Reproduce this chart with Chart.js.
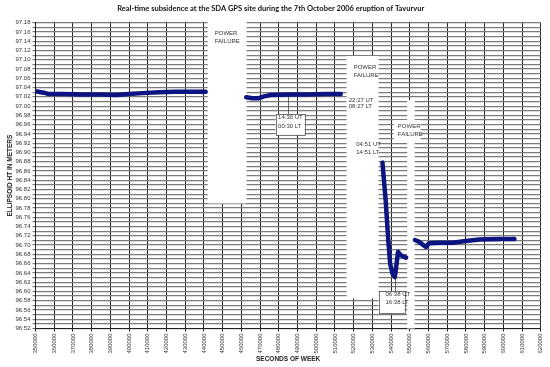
<!DOCTYPE html>
<html>
<head>
<meta charset="utf-8">
<script src="https://cdn.jsdelivr.net/npm/chart.js@4.4.0/dist/chart.umd.min.js"></script>
<style>
html, body { margin: 0; padding: 0; background: #fff; }
</style>
</head>
<body>
<canvas id="myChart" width="550" height="367"></canvas>
<script>
const ctx = document.getElementById('myChart').getContext('2d')

// seconds of GPS week, a null height marks a gap (power failure)
const gpsSeconds = [
  350000, 354400, 357100, 365000, 375000, 385000, 392800, 400000, 407000, 416000, 425000, 433000, 440900,
  452000,
  462600, 465800, 469400, 472100, 475700, 485500, 495000, 505000, 513100,
  524000,
  535400, 537100, 538500, 539500, 540700, 542000, 542500, 543700, 545200, 548000,
  550500,
  552800, 555000, 558600, 560300, 565700, 572800, 580000, 587100, 598800,
  599700,
  600500, 602800,
  603200,
  603600, 605900
]
const ellipsoidHt = [
  97.032, 97.029, 97.026, 97.026, 97.025, 97.025, 97.024, 97.026, 97.028, 97.030, 97.031, 97.031, 97.031,
  null,
  97.019, 97.017, 97.017, 97.021, 97.024, 97.025, 97.025, 97.026, 97.026,
  null,
  96.878, 96.797, 96.711, 96.660, 96.639, 96.631, 96.646, 96.685, 96.678, 96.673,
  null,
  96.711, 96.707, 96.696, 96.704, 96.705, 96.705, 96.709, 96.712, 96.713,
  null,
  96.713, 96.713,
  null,
  96.713, 96.713
]

const xMin = 350000
const xMax = 620000
const xStep = 10000
const yMin = 96.52
const yMax = 97.18
const yStep = 0.01

// text boxes pasted over the plot (in axis units)
const boxes = [
  { x0: 442000, x1: 462800, y0: 96.79, y1: 97.2 },
  { x0: 516200, x1: 533300, y0: 96.585, y1: 97.108 },
  { x0: 548600, x1: 552600, y0: 96.50, y1: 97.013 },
  { x0: 541400, x1: 555800, y0: 96.927, y1: 96.97 },
  { x0: 478300, x1: 493800, y0: 96.938, y1: 96.983, frame: true },
  { x0: 533300, x1: 547300, y0: 96.553, y1: 96.60, frame: true }
]
const leaders = [
  { x: 484700, y0: 97.025, y1: 96.983 },
  { x: 542000, y0: 96.631, y1: 96.60 }
]
const notes = [
  ['POWER', 445800, 97.158], ['FAILURE', 445800, 97.139],
  ['POWER', 520000, 97.084], ['FAILURE', 520000, 97.067],
  ['22:27 UT', 517400, 97.013], ['08:27 LT', 517400, 96.999],
  ['04:51 UT', 521400, 96.918], ['14:51 LT', 521400, 96.900],
  ['POWER', 543600, 96.957], ['FAILURE', 543600, 96.940],
  ['14:30 UT', 479600, 96.975], ['00:30 LT', 479600, 96.956],
  ['06:38 UT', 537000, 96.593], ['16:38 LT', 537000, 96.576]
]

const points = gpsSeconds.map((s, i) => ({ x: s, y: ellipsoidHt[i] }))

const annotate = {
  id: 'annotate',
  beforeDatasetsDraw(chart) {
    const c = chart.ctx
    const xs = chart.scales.x
    const ys = chart.scales.y
    const a = chart.chartArea
    c.save()
    c.beginPath()
    c.rect(a.left, a.top - 2, a.right - a.left, a.bottom - a.top + 2)
    c.clip()
    boxes.forEach(b => {
      const l = xs.getPixelForValue(b.x0)
      const r = xs.getPixelForValue(b.x1)
      const t = ys.getPixelForValue(b.y1)
      const bt = ys.getPixelForValue(b.y0)
      c.fillStyle = '#fff'
      c.fillRect(l, t, r - l, bt - t)
      if (b.frame) {
        c.strokeStyle = '#555'
        c.lineWidth = 0.8
        c.strokeRect(Math.round(l) + 0.5, Math.round(t) + 0.5, Math.round(r - l), Math.round(bt - t))
      }
    })
    c.strokeStyle = '#444'
    c.lineWidth = 0.8
    leaders.forEach(ld => {
      const x = Math.round(xs.getPixelForValue(ld.x)) + 0.5
      c.beginPath()
      c.moveTo(x, ys.getPixelForValue(ld.y0))
      c.lineTo(x, ys.getPixelForValue(ld.y1))
      c.stroke()
    })
    c.fillStyle = '#333'
    c.font = '6px "Liberation Sans", Arial, sans-serif'
    c.textAlign = 'left'
    c.textBaseline = 'middle'
    notes.forEach(n => {
      c.fillText(n[0], xs.getPixelForValue(n[1]), ys.getPixelForValue(n[2]))
    })
    c.restore()
  }
}

const myChart = new Chart(ctx, {
  type: 'line',
  data: {
    datasets: [{
      data: points,
      borderColor: '#0b1480',
      borderWidth: 4.5,
      borderCapStyle: 'round',
      borderJoinStyle: 'round',
      pointRadius: 0,
      tension: 0,
      spanGaps: false,
      fill: false
    }]
  },
  options: {
    responsive: false,
    animation: false,
    layout: { padding: { left: 0, right: 8.5, top: 0, bottom: 0 } },
    plugins: {
      legend: { display: false },
      tooltip: { enabled: false },
      title: {
        display: true,
        text: 'Real-time subsidence at the SDA GPS site during the 7th October 2006 eruption of Tavurvur',
        color: '#111',
        font: { family: 'Lato, "Liberation Sans", sans-serif', size: 7.5, weight: 'bold', lineHeight: 1.2 },
        padding: { top: 4, bottom: 9.7 }
      }
    },
    scales: {
      x: {
        type: 'linear',
        min: xMin,
        max: xMax,
        afterFit: scale => { scale.height = 38.5 },
        ticks: {
          stepSize: xStep,
          autoSkip: false,
          minRotation: 90,
          maxRotation: 90,
          padding: 2,
          color: '#333',
          font: { family: '"Liberation Sans", Arial, sans-serif', size: 6 },
          callback: v => String(v)
        },
        grid: { color: '#222', lineWidth: 1, tickLength: 3 },
        border: { color: '#222', width: 1 },
        title: {
          display: true,
          text: 'SECONDS OF WEEK',
          color: '#222',
          font: { family: '"Liberation Sans", Arial, sans-serif', size: 6.5, weight: 'bold' },
          padding: { top: 0, bottom: 4 }
        }
      },
      y: {
        min: yMin,
        max: yMax,
        afterFit: scale => { scale.width = 35.5 },
        ticks: {
          stepSize: yStep,
          autoSkip: false,
          padding: 2,
          color: '#333',
          font: { family: '"Liberation Sans", Arial, sans-serif', size: 6 },
          callback: v => (Math.round(v * 100) % 2 === 0 ? v.toFixed(2) : '')
        },
        grid: { color: '#7a7a7a', lineWidth: 1.2, tickLength: 3 },
        border: { color: '#222', width: 1 },
        title: {
          display: true,
          text: 'ELLIPSOID HT IN METERS',
          color: '#222',
          font: { family: '"Liberation Sans", Arial, sans-serif', size: 6.5, weight: 'bold' },
          padding: { top: 6, bottom: 0 }
        }
      }
    }
  },
  plugins: [annotate]
})
</script>
</body>
</html>
